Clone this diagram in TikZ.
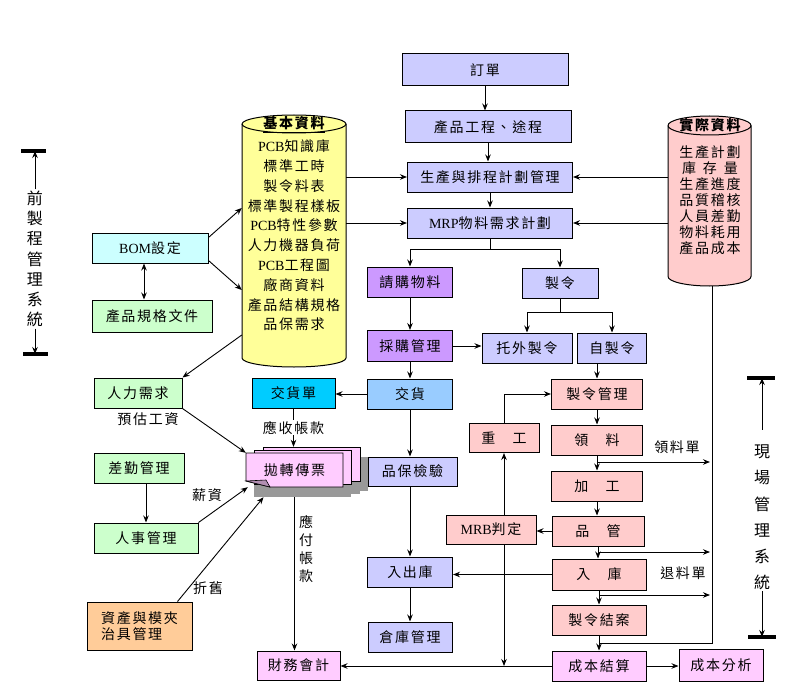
\documentclass[tikz,border=0pt]{standalone}
\usepackage{fontspec}
\setmainfont{Noto Sans CJK TC}[LetterSpace=12]
\newfontfamily\lat{Liberation Serif}[Scale=1.0]
\usetikzlibrary{arrows.meta,positioning,calc}
\definecolor{lilac}{HTML}{CCCCFF}
\definecolor{mauve}{HTML}{CC99FF}
\definecolor{skyblue}{HTML}{99CCFF}
\definecolor{cyanbox}{HTML}{00CCFF}
\definecolor{rosebox}{HTML}{FFCCCC}
\definecolor{orchid}{HTML}{FFCCFF}
\definecolor{mint}{HTML}{CCFFCC}
\definecolor{icebox}{HTML}{CCFFFF}
\definecolor{peach}{HTML}{FFCC99}
\definecolor{lemon}{HTML}{FFFF99}
\definecolor{shadowgray}{HTML}{999999}
\tikzset{
  box/.style={
    rectangle, draw=black, line width=1pt, fill=#1,
    minimum height=30pt, inner sep=2pt, align=center,
    font=\fontsize{14}{16}\selectfont
  },
  box/.default=lilac,
  flow/.style={-{Stealth[length=7pt,width=5.5pt]}, line width=0.9pt},
  twoway/.style={{Stealth[length=7pt,width=5.5pt]}-{Stealth[length=7pt,width=5.5pt]}, line width=0.9pt},
  link/.style={line width=0.9pt},
  lbl/.style={font=\fontsize{14}{16}\selectfont, inner sep=1pt},
  sidebar/.style={line width=4pt},
  sidetext/.style={align=center, inner sep=1pt, font=\fontsize{16}{#1}\selectfont},
  cylfill/.style={fill=#1, draw=black, line width=1pt},
}

\begin{document}
\begin{tikzpicture}[x=1pt,y=-1pt]
\useasboundingbox (0,0) rectangle (787,682);

% CYLINDERS: basic data and actual data
\filldraw[cylfill=lemon] (242,124) -- (242,358) arc[start angle=180,end angle=360,x radius=52pt,y radius=9pt]
  -- (346,124) arc[start angle=0,end angle=180,x radius=52pt,y radius=9pt] -- cycle;
\draw[line width=1pt] (242,124) arc[start angle=180,end angle=360,x radius=52pt,y radius=9pt];
\node[align=center, minimum width=104pt, inner sep=0pt, font=\fontsize{14}{19.8}\selectfont] (basic) at (294,224)
  {{\bfseries\underline{基本資料}}\\[3pt] {\lat PCB}知識庫\\ 標準工時\\ 製令料表\\ 標準製程樣板\\ {\lat PCB}特性參數\\
   人力機器負荷\\ {\lat PCB}工程圖\\ 廠商資料\\ 產品結構規格\\ 品保需求};

\filldraw[cylfill=rosebox] (668,125.5) -- (668,276.5) arc[start angle=180,end angle=360,x radius=41.5pt,y radius=9.5pt]
  -- (751,125.5) arc[start angle=0,end angle=180,x radius=41.5pt,y radius=9.5pt] -- cycle;
\draw[line width=1pt] (668,125.5) arc[start angle=180,end angle=360,x radius=41.5pt,y radius=9.5pt];
\node[align=center, minimum width=83pt, inner sep=0pt, font=\fontsize{14}{16}\selectfont] (actual) at (710,186.5)
  {{\bfseries 實際資料}\\[11pt] 生產計劃\\ 庫\enspace 存\enspace 量\\ 生產進度\\ 品質稽核\\ 人員差勤\\ 物料耗用\\ 產品成本};

% MAIN PLANNING COLUMN
\node[box, minimum width=166pt, minimum height=32pt] (order) at (485,70) {訂單};
\node[box, minimum width=166pt, minimum height=32pt] (eng) at (488,127) {產品工程、途程};
\node[box, minimum width=165pt] (sched) at (490,177) {生產與排程計劃管理};
\node[box, minimum width=165pt] (mrp) at (490,223) {{\lat MRP}物料需求計劃};

\node[box=mauve, minimum width=85pt] (req) at (410,282) {請購物料};
\node[box, minimum width=76pt] (mo) at (560,283) {製令};
\node[box=mauve, minimum width=85pt, minimum height=31pt] (purch) at (410,346) {採購管理};
\node[box, minimum width=90pt] (outmo) at (527,348) {托外製令};
\node[box, minimum width=69pt] (selfmo) at (612,348) {自製令};
\node[box=skyblue, minimum width=85pt] (deliv) at (410,394) {交貨};

% SHOP FLOOR COLUMN
\node[box=rosebox, minimum width=91pt] (momgr) at (597,394) {製令管理};
\node[box=rosebox, minimum width=70pt, minimum height=29pt] (rework) at (504,438) {重　工};
\node[box=rosebox, minimum width=91pt] (pick) at (597,440) {領　料};
\node[box=rosebox, minimum width=91pt] (proc) at (597,486) {加　工};
\node[box=rosebox, minimum width=92pt] (qc) at (598,531) {品　管};
\node[box=rosebox, minimum width=90pt, minimum height=29pt] (mrb) at (491,529.5) {{\lat MRB}判定};
\node[box=rosebox, minimum width=94pt, minimum height=31pt] (stockin) at (599,574.5) {入　庫};
\node[box=rosebox, minimum width=94pt] (close) at (599,620) {製令結案};
\node[box=orchid, minimum width=94pt] (cost) at (599,666) {成本結算};
\node[box=orchid, minimum width=84pt, minimum height=32pt] (analy) at (721,665) {成本分析};

% WAREHOUSE COLUMN
\node[box, minimum width=89pt, minimum height=29pt] (qa) at (412.5,471.5) {品保檢驗};
\node[box, minimum width=85pt] (inout) at (410,572) {入出庫};
\node[box, minimum width=84pt] (wh) at (410,637) {倉庫管理};

% LEFT SIDE: engineering and accounting
\node[box=icebox, minimum width=116pt] (bom) at (150,248) {{\lat BOM}設定};
\node[box=mint, minimum width=120pt, minimum height=32pt] (spec) at (152,316) {產品規格文件};
\node[box=mint, minimum width=88pt] (hr) at (138,393) {人力需求};
\node[box=cyanbox, minimum width=83pt] (dnote) at (293.5,393) {交貨單};
\node[box=mint, minimum width=90pt] (attend) at (139,468) {差勤管理};
\node[box=mint, minimum width=104pt] (pers) at (146,538) {人事管理};
\node[box=peach, minimum width=105pt, minimum height=48pt, align=left] (asset) at (139.5,626) {資產與模夾\\治具管理};
\node[box=orchid, minimum width=83pt, minimum height=29pt] (fin) at (298.5,665.5) {財務會計};

% voucher stack with shadow
\fill[shadowgray] (254,463) rectangle (351,497);
\fill[shadowgray] (262,460) rectangle (360,494);
\fill[shadowgray] (271,457) rectangle (368,491);
\filldraw[fill=orchid, draw=black, line width=0.8pt] (263,447) rectangle (360,481);
\filldraw[fill=orchid, draw=black, line width=0.8pt] (254.5,450) rectangle (351.5,484);
\filldraw[fill=orchid, draw=black, line width=0.8pt] (246,453) -- (343,453) -- (343,487) -- (270,487) -- (246,481) -- cycle;
\filldraw[fill=orchid!70!black, draw=black, line width=0.6pt] (246,481) -- (266,480) -- (270,487) -- cycle;
\node[minimum width=97pt, minimum height=34pt, inner sep=0pt, font=\fontsize{14}{16}\selectfont] (voucher) at (294.5,470) {拋轉傳票};

% SIDE SYSTEM LABELS
\coordinate (pretop) at (34,151);
\coordinate (prebot) at (35,354);
\node[sidetext=20.3] (presys) at (35,259) {前\\製\\程\\管\\理\\系\\統};
\draw[sidebar] ([xshift=-13pt]pretop) -- ([xshift=12pt]pretop);
\draw[sidebar] ([xshift=-12pt]prebot) -- ([xshift=13pt]prebot);
\draw[flow] (presys.north) -- (presys.north |- pretop);
\draw[flow] (presys.south) -- (presys.south |- prebot);

\coordinate (sitetop) at (761,378);
\coordinate (sitebot) at (762,637);
\node[sidetext=26.2] (sitesys) at (762,517.5) {現\\場\\管\\理\\系\\統};
\draw[sidebar] ([xshift=-14pt]sitetop) -- ([xshift=14pt]sitetop);
\draw[sidebar] ([xshift=-14pt]sitebot) -- ([xshift=14pt]sitebot);
\draw[flow] ([yshift=14pt]sitesys.north) -- (sitesys.north |- sitetop);
\draw[flow] (sitesys.south) -- (sitesys.south |- sitebot);

% CONNECTORS: planning chain
\draw[flow] (order.south) -- (order.south |- eng.north);
\draw[flow] (eng.south) -- (eng.south |- sched.north);
\draw[flow] (sched.south) -- (sched.south |- mrp.north);
\draw[flow] (basic.east |- sched.west) -- (sched.west);
\draw[flow] (basic.east |- mrp.west) -- (mrp.west);
\draw[flow] (actual.west |- sched.east) -- (sched.east);
\draw[flow] (actual.west |- mrp.east) -- (mrp.east);

\draw[link] (mrp.south) -- ++(0,11) coordinate (split);
\draw[flow] (split) -| (req.north);
\draw[flow] (split) -| (mo.north);
\draw[link] (mo.south) -- ++(0,14) coordinate (mosplit);
\draw[flow] (mosplit) -| (outmo.north);
\draw[flow] (mosplit) -| (selfmo.north);

\draw[flow] (req) -- (purch);
\draw[flow] (purch.east) -- (purch.east -| outmo.west);
\draw[flow] (purch) -- (deliv);
\draw[flow] (deliv.west) -- (deliv.west -| dnote.east);
\draw[flow] (deliv.south) -- (deliv.south |- qa.north);
\draw[flow] (deliv.south |- qa.south) -- (deliv.south |- inout.north);
\draw[flow] (inout) -- (wh);

% shop floor chain
\draw[flow] (selfmo.south -| momgr.north) -- (momgr.north);
\draw[flow] (momgr) -- (pick);
\draw[flow] (pick) -- (proc);
\draw[flow] (proc.south) -- (proc.south |- qc.north);
\draw[flow] (qc.south) -- (qc.south |- stockin.north);
\draw[flow] (stockin.south) -- (stockin.south |- close.north);
\draw[flow] (close) -- (cost);

\coordinate (pickout) at (710,462);
\draw[flow] (pick.south |- pickout) -- (pickout);
\node[lbl] (picklbl) at (677,447) {領料單};
\coordinate (retout) at (710,552);
\draw[flow] (qc.south |- retout) -- (retout);
\node[lbl] (retlbl) at (683,573) {退料單};
\coordinate (closeout) at (710,595);
\draw[flow] (stockin.south |- closeout) -- (closeout);

% rework loop
\draw[flow] (qc.west) -- (qc.west -| mrb.east);
\draw[flow] (rework.south |- mrb.north) -- (rework.south);
\draw[flow] (rework.north) |- (momgr.west);
\draw[flow] (rework.south |- mrb.south) -- (rework.south |- cost.west);
\draw[flow] (stockin.west) -- (stockin.west -| inout.east);

% costing
\coordinate (actbot) at (712,286);
\coordinate (costin) at ($(close.south)!0.5!(cost.north)$);
\draw[link] (actbot) |- (costin);
\draw[flow] (cost.west) -- (cost.west -| fin.east);
\draw[flow] (cost.east) -- (cost.east -| analy.west);

% left side connectors
\draw[flow] ([yshift=-5pt]bom.north east) -- ([yshift=16pt]basic.west);
\draw[flow] ([yshift=3pt]bom.south east) -- ([yshift=-66pt]basic.west);
\draw[twoway] ([xshift=-6pt]bom.south) -- ([xshift=-6pt]bom.south |- spec.north);
\draw[flow] ([yshift=-111pt]basic.west) -- (hr.north east);
\draw[flow] (hr.south east) -- (voucher.north west);
\node[lbl] (wagelbl) at (148,419) {預估工資};
\draw[flow] (dnote.south) -- ([yshift=6pt]voucher.north -| dnote.south)
  node[lbl, fill=white, midway] {應收帳款};
\draw[flow] (attend.south -| pers.north) -- (pers.north);
\draw[flow] (pers.north east) -- ([xshift=2pt]voucher.south west);
\node[lbl] (salarylbl) at (207,495) {薪資};
\draw[flow] ([xshift=-15pt]asset.north east) -- ([xshift=-31pt,yshift=-10pt]voucher.south);
\node[lbl] (deprlbl) at (208,588) {折舊};
\draw[flow] ([yshift=-10pt]voucher.south) -- (voucher.south |- fin.north);
\node[lbl, align=center, font=\fontsize{14}{18}\selectfont] (paylbl) at (306,549) {應\\付\\帳\\款};

\end{tikzpicture}
\end{document}
